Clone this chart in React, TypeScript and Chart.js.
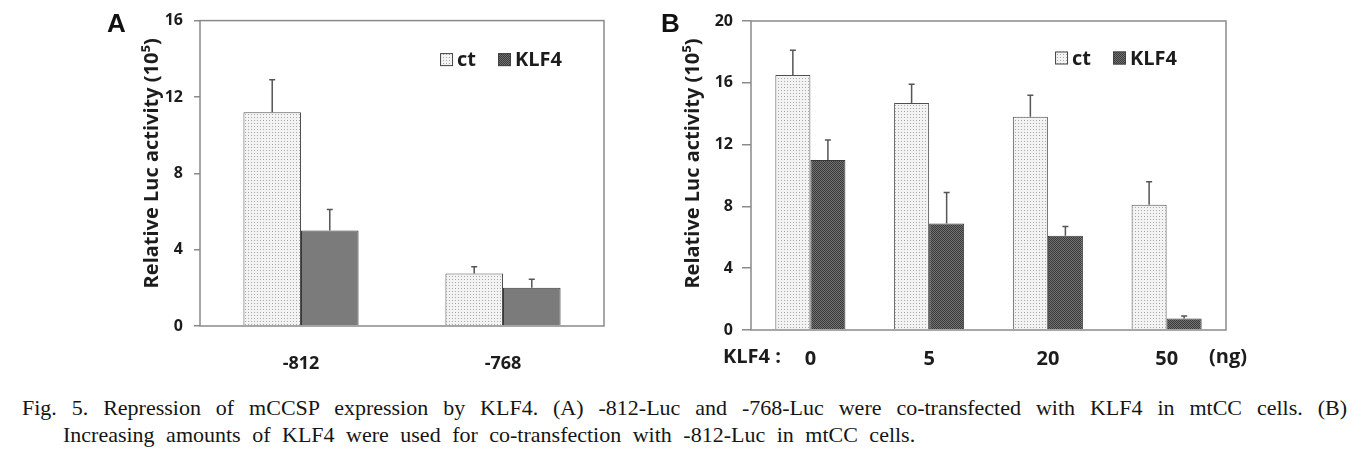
import React, { useEffect, useRef } from "react";
import { Chart, registerables } from "chart.js";

Chart.register(...registerables);

// ---------- Panel A data ----------
const categoriesA = ["-812", "-768"];
const ctA = [11.2, 2.75];
const ctErrA = [1.7, 0.35];
const klf4A = [5.0, 2.0];
const klf4ErrA = [1.1, 0.45];
const yTicksA = [0, 4, 8, 12, 16];

// ---------- Panel B data ----------
const categoriesB = ["0", "5", "20", "50"];
const ctB = [16.5, 14.7, 13.8, 8.1];
const ctErrB = [1.6, 1.2, 1.4, 1.5];
const klf4B = [11.0, 6.9, 6.1, 0.75];
const klf4ErrB = [1.3, 2.0, 0.6, 0.15];
const yTicksB = [0, 4, 8, 12, 16, 20];

// ---------- Text ----------
const seriesLabels = ["ct", "KLF4"];
const yTitle = "Relative Luc activity (10⁵)";
const xPrefixB = "KLF4 :";
const xUnitB = "(ng)";
const captionLine1 =
  "Fig. 5. Repression of mCCSP expression by KLF4. (A) -812-Luc and -768-Luc were co-transfected with KLF4 in mtCC cells. (B)";
const captionLine2 =
  "Increasing amounts of KLF4 were used for co-transfection with -812-Luc in mtCC cells.";

const FONT = "'Open Sans', 'Noto Sans', sans-serif";
const TEXT = "#1c1c1c";
const AXIS = "#8a8a8a";

function makePattern(kind: string): CanvasPattern | string {
  const c = document.createElement("canvas");
  const g = c.getContext("2d");
  if (!g) return "#ccc";
  if (kind === "ct") {
    c.width = 3;
    c.height = 3;
    g.fillStyle = "#f3f3f3";
    g.fillRect(0, 0, 3, 3);
    g.fillStyle = "#a8a8a8";
    g.fillRect(0, 0, 1, 1);
  } else {
    c.width = 2;
    c.height = 2;
    g.fillStyle = "#727272";
    g.fillRect(0, 0, 2, 2);
    g.fillStyle = "#3a3a3a";
    g.fillRect(0, 0, 1, 1);
    g.fillRect(1, 1, 1, 1);
  }
  return g.createPattern(c, "repeat") || "#888";
}

const errorBarPlugin = {
  id: "errorBars",
  afterDatasetsDraw(chart: any, _args: any, opts: any) {
    const { ctx } = chart;
    const y = chart.scales.y;
    ctx.save();
    ctx.strokeStyle = "#555";
    ctx.lineWidth = 1.5;
    chart.data.datasets.forEach((ds: any, i: number) => {
      const meta = chart.getDatasetMeta(i);
      const errs = opts.errors[i];
      meta.data.forEach((bar: any, j: number) => {
        const v = ds.data[j];
        const top = y.getPixelForValue(v + errs[j]);
        const base = y.getPixelForValue(v);
        ctx.beginPath();
        ctx.moveTo(bar.x, base);
        ctx.lineTo(bar.x, top);
        ctx.moveTo(bar.x - 3, top);
        ctx.lineTo(bar.x + 3, top);
        ctx.stroke();
      });
    });
    ctx.restore();
  },
};

const framePlugin = {
  id: "frame",
  afterDatasetsDraw(chart: any) {
    const { ctx, chartArea } = chart;
    ctx.save();
    ctx.strokeStyle = AXIS;
    ctx.lineWidth = 1.5;
    ctx.strokeRect(
      chartArea.left,
      chartArea.top,
      chartArea.right - chartArea.left,
      chartArea.bottom - chartArea.top
    );
    ctx.restore();
  },
};

const yTitlePlugin = {
  id: "yTitle",
  afterDraw(chart: any, _args: any, opts: any) {
    const { ctx, chartArea } = chart;
    ctx.save();
    ctx.font = `bold 20px ${FONT}`;
    ctx.fillStyle = TEXT;
    ctx.textAlign = "center";
    ctx.textBaseline = "middle";
    ctx.translate(opts.x, (chartArea.top + chartArea.bottom) / 2 + opts.dy);
    ctx.rotate(-Math.PI / 2);
    ctx.fillText(yTitle, 0, 0);
    ctx.restore();
  },
};

const insideLegendPlugin = {
  id: "insideLegend",
  afterDraw(chart: any, _args: any, opts: any) {
    const { ctx, chartArea } = chart;
    ctx.save();
    ctx.font = `bold 20px ${FONT}`;
    ctx.textBaseline = "middle";
    ctx.textAlign = "left";
    const box = 13;
    const boxGap = 4;
    const itemGap = 22;
    const labels = chart.data.datasets.map((d: any) => d.label);
    const widths = labels.map((l: string) => box + boxGap + ctx.measureText(l).width);
    const total = widths.reduce((a: number, b: number) => a + b, 0) + itemGap * (labels.length - 1);
    let x = chartArea.right - opts.gap - total;
    const y = chartArea.top + opts.dy;
    labels.forEach((l: string, i: number) => {
      ctx.fillStyle = opts.fills[i];
      ctx.fillRect(x, y - box / 2, box, box);
      ctx.strokeStyle = "#444";
      ctx.lineWidth = 1;
      ctx.strokeRect(x + 0.5, y - box / 2 + 0.5, box - 1, box - 1);
      ctx.fillStyle = TEXT;
      ctx.fillText(l, x + box + boxGap, y + 1);
      x += widths[i] + itemGap;
    });
    ctx.restore();
  },
};

const extraLabelsPlugin = {
  id: "extraLabels",
  afterDraw(chart: any, _args: any, opts: any) {
    if (!opts || !opts.show) return;
    const { ctx, chartArea } = chart;
    ctx.save();
    ctx.font = `bold ${opts.size}px ${FONT}`;
    ctx.fillStyle = TEXT;
    ctx.textBaseline = "middle";
    ctx.textAlign = "left";
    const yy = chartArea.bottom + opts.dy;
    ctx.fillText(xPrefixB, chartArea.left - 28, yy);
    ctx.textAlign = "center";
    ctx.fillText(xUnitB, chartArea.right + 2, yy);
    ctx.restore();
  },
};

type PanelProps = {
  categories: string[];
  ct: number[];
  ctErr: number[];
  klf4: number[];
  klf4Err: number[];
  yTicks: number[];
  left: number;
  width: number;
  height: number;
  areaLeft: number;
  areaRight: number;
  areaTop: number;
  areaBottom: number;
  titleX: number;
  titleDy: number;
  tickLen: number;
  tickPad: number;
  xFont: number;
  xPad: number;
  catPct: number;
  solidKlf4: boolean;
  legendGap: number;
  legendDy: number;
  extra: boolean;
  extraDy: number;
};

function Panel(p: PanelProps) {
  const ref = useRef<HTMLCanvasElement | null>(null);
  useEffect(() => {
    if (!ref.current) return;
    const ctPat = makePattern("ct");
    const darkPat = makePattern("dark");
    const chart = new Chart(ref.current, {
      type: "bar",
      data: {
        labels: p.categories,
        datasets: [
          {
            label: seriesLabels[0],
            data: p.ct,
            backgroundColor: ctPat as any,
            borderColor: "#505050",
            borderWidth: 1,
            categoryPercentage: p.catPct,
            barPercentage: 1,
          },
          {
            label: seriesLabels[1],
            data: p.klf4,
            backgroundColor: (p.solidKlf4 ? "#7b7b7b" : darkPat) as any,
            borderColor: "#383838",
            borderWidth: 1,
            categoryPercentage: p.catPct,
            barPercentage: 1,
          },
        ],
      },
      options: {
        animation: false,
        responsive: false,
        maintainAspectRatio: false,
        layout: {
          padding: { left: 0, right: p.width - p.areaRight, top: p.areaTop, bottom: 0 },
        },
        plugins: {
          legend: { display: false },
          tooltip: { enabled: false },
          errorBars: { errors: [p.ctErr, p.klf4Err] },
          yTitle: { x: p.titleX, dy: p.titleDy },
          insideLegend: { gap: p.legendGap, dy: p.legendDy, fills: [ctPat, darkPat] },
          extraLabels: { show: p.extra, size: p.xFont, dy: p.extraDy },
        } as any,
        scales: {
          x: {
            grid: { display: false },
            border: { display: false },
            ticks: {
              font: { family: FONT, size: p.xFont, weight: "bold" },
              color: TEXT,
              padding: p.xPad,
              maxRotation: 0,
            },
            afterFit: (s: any) => {
              s.height = p.height - p.areaBottom;
            },
          },
          y: {
            min: p.yTicks[0],
            max: p.yTicks[p.yTicks.length - 1],
            ticks: {
              stepSize: p.yTicks[1] - p.yTicks[0],
              font: { family: FONT, size: 16, weight: "bold" },
              color: TEXT,
              padding: p.tickPad,
            },
            grid: {
              drawOnChartArea: false,
              drawTicks: true,
              tickLength: p.tickLen,
              color: AXIS,
              lineWidth: 1.5,
            },
            border: { display: false },
            title: { display: false },
            afterFit: (s: any) => {
              s.width = p.areaLeft;
            },
          },
        },
      },
      plugins: [errorBarPlugin, framePlugin, yTitlePlugin, insideLegendPlugin, extraLabelsPlugin],
    });
    return () => chart.destroy();
  }, []);
  return (
    <canvas
      ref={ref}
      width={p.width}
      height={p.height}
      style={{ position: "absolute", left: p.left, top: 0, width: p.width, height: p.height }}
    />
  );
}

export default function App() {
  return (
    <div
      style={{
        position: "absolute",
        left: 0,
        top: 0,
        width: 1364,
        height: 462,
        background: "#fff",
        overflow: "hidden",
      }}
    >
      <Panel
        categories={categoriesA}
        ct={ctA}
        ctErr={ctErrA}
        klf4={klf4A}
        klf4Err={klf4ErrA}
        yTicks={yTicksA}
        left={95}
        width={545}
        height={375}
        areaLeft={105}
        areaRight={509}
        areaTop={20}
        areaBottom={326}
        titleX={57}
        titleDy={-10}
        tickLen={6}
        tickPad={11}
        xFont={18}
        xPad={19}
        catPct={0.57}
        solidKlf4={true}
        legendGap={42}
        legendDy={39}
        extra={false}
        extraDy={0}
      />
      <Panel
        categories={categoriesB}
        ct={ctB}
        ctErr={ctErrB}
        klf4={klf4B}
        klf4Err={klf4ErrB}
        yTicks={yTicksB}
        left={640}
        width={620}
        height={375}
        areaLeft={111}
        areaRight={586}
        areaTop={21}
        areaBottom={330}
        titleX={53}
        titleDy={-12}
        tickLen={9}
        tickPad={9}
        xFont={20}
        xPad={9}
        catPct={0.59}
        solidKlf4={false}
        legendGap={49}
        legendDy={37}
        extra={true}
        extraDy={27}
      />
      <div
        style={{
          position: "absolute",
          left: 107,
          top: 10,
          font: "bold 26px 'Liberation Sans', Arial, sans-serif",
          lineHeight: "26px",
          color: "#111",
        }}
      >
        A
      </div>
      <div
        style={{
          position: "absolute",
          left: 661,
          top: 10,
          font: "bold 26px 'Liberation Sans', Arial, sans-serif",
          lineHeight: "26px",
          color: "#111",
        }}
      >
        B
      </div>
      <div
        style={{
          position: "absolute",
          left: 22,
          top: 394,
          width: 1325,
          font: "22px 'Liberation Serif', serif",
          lineHeight: "27px",
          color: "#151515",
          textAlign: "justify",
          textAlignLast: "justify" as any,
        }}
      >
        {captionLine1}
      </div>
      <div
        style={{
          position: "absolute",
          left: 63,
          top: 421,
          font: "22px 'Liberation Serif', serif",
          lineHeight: "27px",
          color: "#151515",
          wordSpacing: "6px",
          whiteSpace: "nowrap",
        }}
      >
        {captionLine2}
      </div>
    </div>
  );
}
